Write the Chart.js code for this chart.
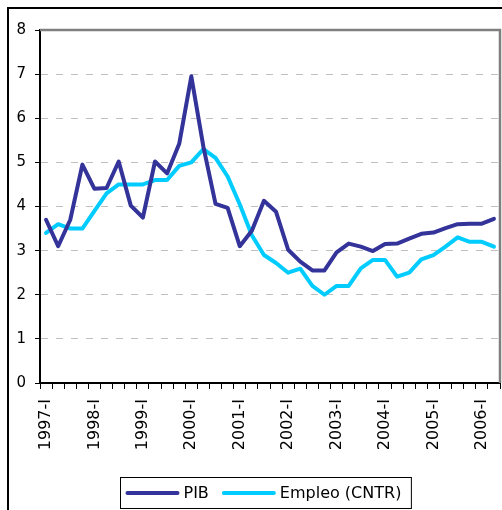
<!DOCTYPE html>
<html>
<head>
<meta charset="utf-8">
<script src="https://cdn.jsdelivr.net/npm/chart.js@4.4.1/dist/chart.umd.min.js"></script>
<style>
  html, body { margin: 0; padding: 0; background: #fff; overflow: hidden; }
  #frame { position: absolute; left: 7px; top: 7px; width: 600px; height: 600px; border: 2px solid #000; }
  #wrap { position: absolute; left: 0; top: 0; width: 502px; height: 510px; }
</style>
</head>
<body>
<div id="frame"></div>
<div id="wrap"><canvas id="js-chart-pib"></canvas></div>
<script>
// Quarterly categories, 1997-I .. 2006-II
const quarters = [
  "1997-I", "1997-II", "1997-III", "1997-IV",
  "1998-I", "1998-II", "1998-III", "1998-IV",
  "1999-I", "1999-II", "1999-III", "1999-IV",
  "2000-I", "2000-II", "2000-III", "2000-IV",
  "2001-I", "2001-II", "2001-III", "2001-IV",
  "2002-I", "2002-II", "2002-III", "2002-IV",
  "2003-I", "2003-II", "2003-III", "2003-IV",
  "2004-I", "2004-II", "2004-III", "2004-IV",
  "2005-I", "2005-II", "2005-III", "2005-IV",
  "2006-I", "2006-II"
];

const pib = [
  3.70, 3.10, 3.70, 4.95, 4.40, 4.42, 5.02, 4.02, 3.75, 5.02,
  4.75, 5.42, 6.95, 5.35, 4.06, 3.97, 3.10, 3.45, 4.13, 3.88,
  3.02, 2.75, 2.55, 2.55, 2.96, 3.16, 3.09, 2.99, 3.15, 3.16,
  3.27, 3.38, 3.41, 3.51, 3.60, 3.61, 3.61, 3.72
];

const empleo = [
  3.40, 3.60, 3.50, 3.50, 3.90, 4.30, 4.50, 4.50, 4.50, 4.60,
  4.60, 4.92, 5.00, 5.30, 5.10, 4.68, 4.05, 3.35, 2.90, 2.72,
  2.50, 2.59, 2.20, 2.00, 2.20, 2.20, 2.60, 2.79, 2.79, 2.41,
  2.50, 2.80, 2.90, 3.09, 3.30, 3.20, 3.20, 3.09
];

const yTicks = [0, 1, 2, 3, 4, 5, 6, 7, 8];

const FONT = '"DejaVu Sans", Verdana, sans-serif';

// Gray frame on top and right of the plot area (Excel style)
const plotFrame = {
  id: "plotFrame",
  beforeDatasetsDraw(chart) {
    const { ctx, chartArea: a } = chart;
    ctx.save();
    ctx.strokeStyle = "#808080";
    ctx.lineWidth = 2.5;
    ctx.beginPath();
    ctx.moveTo(a.left, a.top);
    ctx.lineTo(a.right, a.top);
    ctx.lineTo(a.right, a.bottom);
    ctx.stroke();
    ctx.restore();
  },
};

// Boxed legend at the bottom
const legendBox = {
  id: "legendBox",
  afterDraw(chart) {
    const ctx = chart.ctx;
    ctx.save();
    ctx.font = "16px " + FONT;
    const sample = 54, gap = 4, itemGap = 13, padL = 5, padR = 10;
    const items = chart.data.datasets.map((ds) => ({
      text: ds.label,
      color: ds.borderColor,
      w: ctx.measureText(ds.label).width,
    }));
    let total = padL + padR + itemGap * (items.length - 1);
    items.forEach((it) => (total += sample + gap + it.w));
    const left = Math.round(265.5 - total / 2) + 0.5;
    const top = 477.5, h = 31;
    ctx.fillStyle = "#fff";
    ctx.fillRect(left, top, total, h);
    ctx.strokeStyle = "#000";
    ctx.lineWidth = 1;
    ctx.strokeRect(left, top, total, h);
    const cy = top + h / 2;
    let x = left + padL;
    items.forEach((it) => {
      ctx.strokeStyle = it.color;
      ctx.lineWidth = 4;
      ctx.lineCap = "round";
      ctx.beginPath();
      ctx.moveTo(x + 2, cy);
      ctx.lineTo(x + sample - 2, cy);
      ctx.stroke();
      x += sample + gap;
      ctx.fillStyle = "#000";
      ctx.textBaseline = "middle";
      ctx.fillText(it.text, x, cy + 1);
      x += it.w + itemGap;
    });
    ctx.restore();
  },
};

const chartCon = document.getElementById("js-chart-pib");

new Chart(chartCon, {
  type: "line",
  data: {
    labels: quarters,
    datasets: [
      {
        label: "PIB",
        data: pib,
        borderColor: "#333399",
        backgroundColor: "#333399",
      },
      {
        label: "Empleo (CNTR)",
        data: empleo,
        borderColor: "#00CCFF",
        backgroundColor: "#00CCFF",
      },
    ],
  },
  options: {
    responsive: true,
    maintainAspectRatio: false,
    animation: false,
    layout: { padding: { left: 10, top: 30, right: 2, bottom: 0 } },
    elements: {
      point: { radius: 0, hoverRadius: 0 },
      line: { borderWidth: 4, tension: 0, borderJoinStyle: "round", borderCapStyle: "round" },
    },
    plugins: {
      legend: { display: false },
      tooltip: { enabled: false },
    },
    scales: {
      x: {
        type: "category",
        offset: true,
        grid: {
          offset: true,
          drawOnChartArea: false,
          tickLength: 6,
          tickColor: "#000",
          tickWidth: 1,
        },
        border: { color: "#000", width: 2 },
        ticks: {
          autoSkip: false,
          minRotation: 90,
          maxRotation: 90,
          padding: 10,
          color: "#000",
          font: { family: FONT, size: 16 },
          callback: function (value, index) {
            return index % 4 === 0 ? this.getLabelForValue(value) : "";
          },
        },
        afterFit: (scale) => {
          scale.height = 127;
          scale.paddingLeft = 0;
          scale.paddingRight = 0;
        },
      },
      y: {
        min: 0,
        max: 8,
        afterBuildTicks: (scale) => {
          scale.ticks = yTicks.map((v) => ({ value: v }));
        },
        grid: {
          color: (c) => (c.tick && (c.tick.value === 0 || c.tick.value === 8) ? "rgba(0,0,0,0)" : "#c0c0c0"),
          lineWidth: 1,
          tickColor: "#000",
          tickLength: 5,
          tickBorderDash: [],
        },
        border: { color: "#000", width: 2, dash: [7, 8] },
        ticks: {
          padding: 9,
          color: "#000",
          font: { family: FONT, size: 15 },
        },
        afterFit: (scale) => {
          scale.width = 30;
          scale.paddingTop = 0;
          scale.paddingBottom = 0;
        },
      },
    },
  },
  plugins: [plotFrame, legendBox],
});
</script>
</body>
</html>
